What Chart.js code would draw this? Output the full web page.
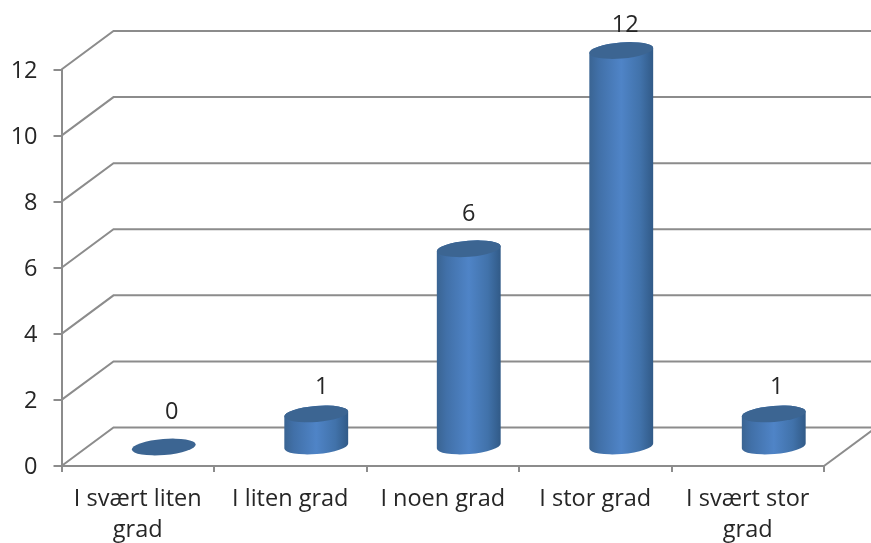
<!DOCTYPE html>
<html>
<head>
<meta charset="utf-8">
<title>Grad</title>
<script src="https://cdn.jsdelivr.net/npm/chart.js@4/dist/chart.umd.js"></script>
<style>
    html, body { margin: 0; padding: 0; background: #fff; overflow: hidden; }
    canvas { display: block; filter: blur(0.5px); }
</style>
</head>
<body>
<canvas id="chart" width="871" height="543"></canvas>
<script>
const categories = [
    ['I svært liten', 'grad'],
    'I liten grad',
    'I noen grad',
    'I stor grad',
    ['I svært stor', 'grad']
];
const values = [0, 1, 6, 12, 1];

const FONT = '"Open Sans", Lato, sans-serif';
const FONT_SIZE = 23.5;
const TEXT_COLOR = '#262626';
const AXIS_COLOR = '#8c8c8c';

// the excel-style perspective: back wall offset and how far the bars sit into the floor
const WALL_DX = 52;
const WALL_DY = -38.5;
const BAR_DX = 26;
const BAR_DY = -19;
const CAP_RY = 8;
const CAP_TILT = -0.08;
// value labels in the original do not sit at a constant distance from the caps
const labelNudge = [[8, -34.5], [5.5, -26.5], [0, -34.5], [4, -25.5], [3, -26.5]];

class CylinderBar extends Chart.BarElement {
    draw(ctx) {
        const { x, y, base, width } = this.getProps(['x', 'y', 'base', 'width']);
        const cx = x + BAR_DX;
        const top = y + BAR_DY;
        const bottom = base + BAR_DY;
        const rx = width / 2;

        const body = ctx.createLinearGradient(cx - rx, 0, cx + rx, 0);
        body.addColorStop(0, '#3a6492');
        body.addColorStop(0.15, '#4170a8');
        body.addColorStop(0.5, '#4f84c7');
        body.addColorStop(0.8, '#4172aa');
        body.addColorStop(1, '#315a87');

        ctx.save();
        if (bottom - top > 0.5) {
            ctx.beginPath();
            ctx.ellipse(cx, bottom, rx, CAP_RY, CAP_TILT, 0, Math.PI);
            ctx.ellipse(cx, top, rx, CAP_RY, CAP_TILT, Math.PI, Math.PI * 2);
            ctx.closePath();
            ctx.fillStyle = body;
            ctx.fill();
        }
        ctx.beginPath();
        ctx.ellipse(cx, top, rx, CAP_RY, CAP_TILT, 0, Math.PI * 2);
        ctx.fillStyle = '#3c6592';
        ctx.fill();
        ctx.restore();
    }
}
CylinderBar.id = 'cylinderBar';
Chart.register(CylinderBar);
Chart.defaults.datasets.bar.dataElementType = 'cylinderBar';

const wallPlugin = {
    id: 'wall',
    beforeDatasetsDraw(chart) {
        const { ctx, chartArea, scales } = chart;
        ctx.save();
        ctx.strokeStyle = AXIS_COLOR;
        ctx.lineWidth = 2;
        scales.y.ticks.forEach((tick) => {
            const y = scales.y.getPixelForValue(tick.value);
            ctx.beginPath();
            ctx.moveTo(chartArea.left, y);
            ctx.lineTo(chartArea.left + WALL_DX, y + WALL_DY);
            ctx.lineTo(chart.width, y + WALL_DY);
            ctx.stroke();
        });
        ctx.beginPath();
        ctx.moveTo(chartArea.right, chartArea.bottom);
        ctx.lineTo(chartArea.right + WALL_DX, chartArea.bottom + WALL_DY);
        ctx.stroke();
        ctx.restore();
    }
};

const valueLabelPlugin = {
    id: 'valueLabels',
    afterDatasetsDraw(chart) {
        const { ctx } = chart;
        ctx.save();
        ctx.font = FONT_SIZE + 'px ' + FONT;
        ctx.fillStyle = TEXT_COLOR;
        ctx.textAlign = 'center';
        ctx.textBaseline = 'middle';
        chart.getDatasetMeta(0).data.forEach((bar, i) => {
            const nudge = labelNudge[i];
            ctx.fillText(String(values[i]), bar.x + BAR_DX + nudge[0], bar.y + BAR_DY + nudge[1]);
        });
        ctx.restore();
    }
};

new Chart(document.getElementById('chart'), {
    type: 'bar',
    data: {
        labels: categories,
        datasets: [{
            data: values,
            clip: false,
            categoryPercentage: 1,
            barPercentage: 0.42
        }]
    },
    options: {
        responsive: false,
        animation: false,
        events: [],
        layout: { padding: { top: 69.5, right: 47, left: 0, bottom: 0 } },
        plugins: {
            legend: { display: false },
            tooltip: { enabled: false }
        },
        scales: {
            x: {
                afterFit(scale) { scale.height = 77; },
                border: { color: AXIS_COLOR, width: 2 },
                grid: { drawOnChartArea: false, color: AXIS_COLOR, lineWidth: 2, tickLength: 6 },
                ticks: {
                    color: TEXT_COLOR,
                    font: { family: FONT, size: FONT_SIZE, lineHeight: 1.3 },
                    padding: 12,
                    autoSkip: false,
                    maxRotation: 0
                }
            },
            y: {
                min: 0,
                max: 12,
                afterFit(scale) { scale.width = 61.5; },
                border: { color: AXIS_COLOR, width: 2 },
                grid: { drawOnChartArea: false, color: AXIS_COLOR, lineWidth: 2, tickLength: 8 },
                ticks: {
                    stepSize: 2,
                    color: TEXT_COLOR,
                    font: { family: FONT, size: FONT_SIZE },
                    padding: 16,
                    labelOffset: 1.5
                }
            }
        }
    },
    plugins: [wallPlugin, valueLabelPlugin]
});
</script>
</body>
</html>
